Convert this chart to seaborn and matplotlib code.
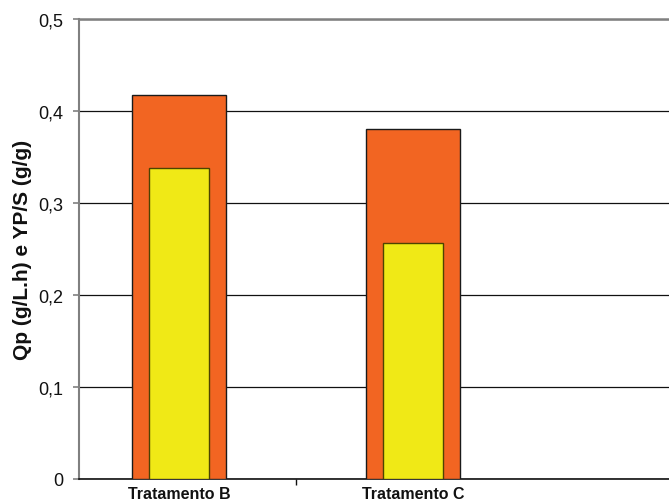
import matplotlib
matplotlib.use("Agg")
import matplotlib.pyplot as plt
import seaborn as sns
import pandas as pd

# Data
categories = ["Tratamento B", "Tratamento C"]
qp_values = [0.417, 0.380]      # productivity Qp (g/L.h) - wide orange bars
yps_values = [0.338, 0.256]     # yield YP/S (g/g) - narrow yellow bars
y_ticks = [0, 0.1, 0.2, 0.3, 0.4, 0.5]
y_tick_labels = ["0", "0,1", "0,2", "0,3", "0,4", "0,5"]

sns.set_theme(style="white")
plt.rcParams["font.family"] = ["Liberation Sans", "DejaVu Sans"]

df = pd.DataFrame({"cat": categories, "qp": qp_values, "yps": yps_values})

fig = plt.figure(figsize=(6.69, 5.02), dpi=100)
ax = fig.add_axes([79 / 669, 22 / 502, 1 - 79 / 669, 460 / 502])

sns.barplot(data=df, x="cat", y="qp", color="#F26522", width=0.40,
            edgecolor="#1a1a1a", linewidth=1.0, saturation=1, ax=ax, zorder=3)
sns.barplot(data=df, x="cat", y="yps", color="#F0E916", width=0.256,
            edgecolor="#4d4300", linewidth=1.0, saturation=1, ax=ax, zorder=4)

ax.set_xlim(-0.427, 2.094)
ax.set_ylim(0, 0.5)

# Y axis
ax.set_yticks(y_ticks)
ax.set_yticklabels(y_tick_labels, fontsize=13, color="#111111")
ax.yaxis.grid(True, color="#111111", linewidth=0.9, zorder=0)
ax.set_axisbelow(True)
ax.tick_params(axis="y", which="major", direction="out", length=4,
               width=1.2, color="#808080", pad=7, left=True)
ax.set_ylabel("Qp (g/L.h) e YP/S (g/g)", fontsize=15, fontweight="bold",
              color="#111111", labelpad=5)

# X axis: category labels, separator tick between categories
ax.set_xticks([0, 1])
ax.set_xticklabels(categories, fontsize=11.5, fontweight="bold", color="#111111")
ax.tick_params(axis="x", which="major", length=0, pad=5)
ax.set_xticks([0.5], minor=True)
ax.tick_params(axis="x", which="minor", direction="out", length=4,
               width=1.0, color="#111111", bottom=True)
ax.set_xlabel("")

# Frame
ax.spines["right"].set_visible(False)
ax.spines["left"].set_color("#808080")
ax.spines["left"].set_linewidth(1.5)
ax.spines["top"].set_color("#808080")
ax.spines["top"].set_linewidth(1.8)
ax.spines["bottom"].set_color("#111111")
ax.spines["bottom"].set_linewidth(1.2)

fig.savefig("out.png", dpi=100)
